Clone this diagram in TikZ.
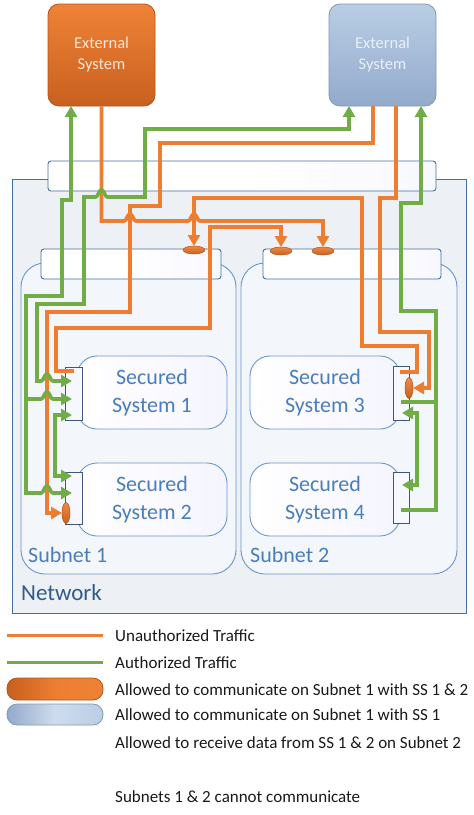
\documentclass[tikz,border=0pt]{standalone}
\usepackage{fontspec}
\setmainfont{Carlito}
\usetikzlibrary{arrows.meta,shapes.geometric}
\definecolor{orgc}{HTML}{ED7D31}
\definecolor{grnc}{HTML}{70AD47}
\definecolor{netbd}{HTML}{4470A0}
\definecolor{subbd}{HTML}{6A96CC}
\definecolor{txtb}{HTML}{4A7EBB}
\definecolor{txtn}{HTML}{2F5C8A}
\definecolor{portbd}{HTML}{3F5779}
\definecolor{bluetop}{HTML}{B9CDE5}
\definecolor{bluebot}{HTML}{93AACB}
\definecolor{bluebd}{HTML}{8497B3}
\definecolor{bluetxt}{HTML}{EAF0F7}
\definecolor{orgtop}{HTML}{EF8236}
\definecolor{orgbot}{HTML}{C8601F}
\definecolor{orgbd}{HTML}{AE5520}
\definecolor{orgtxt}{HTML}{FCE6D4}
\definecolor{netfill}{HTML}{EDF0F5}
\definecolor{subfill}{HTML}{F3F6FA}
\begin{document}
\begin{tikzpicture}[x=1pt,y=-1pt,
  ol/.style={draw=orgc, line width=3.6pt},
  gl/.style={draw=grnc, line width=3.6pt},
  tip/.style={-{Triangle[length=11pt,width=12pt]}},
  tips/.style={{Triangle[length=11pt,width=12pt]}-{Triangle[length=11pt,width=12pt]}},
  jr/.style 2 args={insert path={-- ({#1-6},#2) .. controls ({#1-3},#2) and ({#1-3},{#2-7}) .. (#1,{#2-7}) .. controls ({#1+3},{#2-7}) and ({#1+3},#2) .. ({#1+6},#2)}},
  jl/.style 2 args={insert path={-- ({#1+6},#2) .. controls ({#1+3},#2) and ({#1+3},{#2-7}) .. (#1,{#2-7}) .. controls ({#1-3},{#2-7}) and ({#1-3},#2) .. ({#1-6},#2)}},
  extbox/.style={rounded corners=11pt, minimum width=107pt, minimum height=102pt, line width=0.8pt, align=center, font=\fontsize{16.5}{21}\selectfont},
  bar/.style={draw=netbd, line width=0.9pt, rounded corners=3pt, left color=white, right color=black!6!blue!3!white, middle color=white},
  subnet/.style={draw=subbd, line width=0.9pt, fill=subfill, rounded corners=24pt, minimum height=311pt},
  ssbox/.style={draw=subbd, line width=0.9pt, rounded corners=20pt, minimum width=150pt, minimum height=73pt, left color=white, right color=blue!4!white, text=txtb, align=center, font=\fontsize{22}{28}\selectfont},
  port/.style={draw=portbd, line width=0.9pt, fill=blue!3!white, minimum width=17pt},
  oell/.style={ellipse, draw=orgbd, line width=0.5pt, top color=orgc!90!white, bottom color=orgbot, inner sep=0pt},
  lbl/.style={text=txtb, font=\fontsize{22}{26}\selectfont, anchor=west, inner sep=0pt},
  leg/.style={anchor=west, inner sep=0pt, font=\fontsize{17}{20}\selectfont, text=black!90}
]
\useasboundingbox (0,0) rectangle (474,815);

% external systems
\node[extbox, draw=orgbd, top color=orgtop, bottom color=orgbot, text=orgtxt] (es1) at (101.5,55) {External\\System};
\node[extbox, draw=bluebd, top color=bluetop, bottom color=bluebot, text=bluetxt] (es2) at (382.5,55) {External\\System};

% network
\node[draw=netbd, line width=0.9pt, fill=netfill, minimum width=454pt, minimum height=434pt] (net) at (239,396) {};
\node[bar, minimum width=388pt, minimum height=30pt] (netbar) at (242,176) {};
\node[lbl, text=txtn, font=\fontsize{23}{26}\selectfont] (netl) at (21,593) {Network};

% subnets
\node[subnet, minimum width=215pt] (sn1) at (128.5,418.5) {};
\node[subnet, minimum width=216pt] (sn2) at (349,418.5) {};
\node[bar, minimum width=180pt, minimum height=30pt] (sb1) at (131,264) {};
\node[bar, minimum width=178pt, minimum height=30pt] (sb2) at (352,264) {};
\node[lbl] (sn1l) at (28,555) {Subnet 1};
\node[lbl] (sn2l) at (250,555) {Subnet 2};

% secured systems
\node[ssbox] (ss1) at (152,392.5) {Secured\\System 1};
\node[ssbox] (ss2) at (152,499.5) {Secured\\System 2};
\node[ssbox] (ss3) at (325,392.5) {Secured\\System 3};
\node[ssbox] (ss4) at (325,499.5) {Secured\\System 4};
\node[port, minimum height=53pt] (p1) at (73.5,393.5) {};
\node[port, minimum height=52pt] (p2) at (73.5,498) {};
\node[port, minimum height=54pt, minimum width=16pt] (p3) at (401,393) {};
\node[port, minimum height=51pt, minimum width=16pt] (p4) at (401,497.5) {};

% ellipse anchor points
\coordinate (e1t) at (194,246);
\coordinate (e2at) at (281,247);
\coordinate (e2bt) at (323,247);
\coordinate (e3t) at (62,513);
\coordinate (e4t) at (413,388);

% ===== connectors =====
% orange
\draw[ol,tip] (es1.south) -- (101.5,221) [jr={130}{221}] [jr={194}{221}] -- (323,221) -- (e2bt);
\draw[ol,tip] (373,106) -- (373,143) -- (160,143) -- (160,206) -- (130,206) -- (130,312) -- (47,312) -- (47,513) -- (e3t);
\draw[ol,tip] (74,371) -- (56,371) -- (56,328) -- (210,328) -- (210,227) -- (281,227) -- (e2at);
\draw[ol,tip] (400,372) -- (417,372) -- (417,346) -- (362,346) -- (362,198) -- (194,198) -- (e1t);
\draw[ol,tip] (396,106) -- (396,198) -- (380,198) -- (380,332) -- (429,332) -- (429,388) -- (e4t);

% green
\draw[gl,tips] (71,106) -- (71,200) -- (62,200) -- (62,296) -- (26,296) -- (26,493) [jr={47}{493}] -- (72,493);
\draw[gl,tip] (26,399) [jr={47}{399}] -- (72,399);
\draw[gl,tips] (349,106) -- (349,129) -- (145,129) -- (145,197) [jl={101.5}{197}] -- (84,197) -- (84,304) -- (37,304) -- (37,381) [jr={47}{381}] -- (72,381);
\draw[gl,tips] (72,415) -- (55,415) -- (55,476) -- (72,476);
\draw[gl,tip] (401,510) -- (436,510) -- (436,311) -- (401,311) -- (401,203) -- (421,203) -- (421,106);
\draw[gl] (401,402) -- (436,402);
\draw[gl,tips] (402,413) -- (417,413) -- (417,485) -- (402,485);

% ellipses on top
\node[oell, minimum width=22pt, minimum height=8pt] (e1) at (194,250) {};
\node[oell, minimum width=22pt, minimum height=8pt] (e2a) at (281,251) {};
\node[oell, minimum width=22pt, minimum height=8pt] (e2b) at (323,251) {};
\node[oell, minimum width=8pt, minimum height=21pt] (e3) at (66,513) {};
\node[oell, minimum width=8pt, minimum height=21pt] (e4) at (409,388) {};

% ===== legend =====
\draw[draw=orgc, line width=3pt] (7,635) coordinate (l1a) -- (103,635) coordinate (l1b);
\node[leg] (t1) at (115,636) {Unauthorized Traffic};
\draw[draw=grnc, line width=3pt] (7,662) coordinate (l2a) -- (103,662) coordinate (l2b);
\node[leg] (t2) at (115,663) {Authorized Traffic};
\node[draw=orgbd, line width=0.8pt, rounded corners=10pt, minimum width=96pt, minimum height=22pt, left color=orgbot, right color=orgtop, middle color=orgc] (pill1) at (55,689) {};
\node[leg] (t3) at (115,690) {Allowed to communicate on Subnet 1 with SS 1 \& 2};
\node[draw=bluebd, line width=0.8pt, rounded corners=10pt, minimum width=96pt, minimum height=21pt, left color=bluebot, right color=bluetop, middle color=bluetop!70!white] (pill2) at (55,714.5) {};
\node[leg] (t4) at (115,715) {Allowed to communicate on Subnet 1 with SS 1};
\node[leg] (t5) at (115,743) {Allowed to receive data from SS 1 \& 2 on Subnet 2};
\node[leg] (t6) at (115,797) {Subnets 1 \& 2 cannot communicate};
\end{tikzpicture}
\end{document}
